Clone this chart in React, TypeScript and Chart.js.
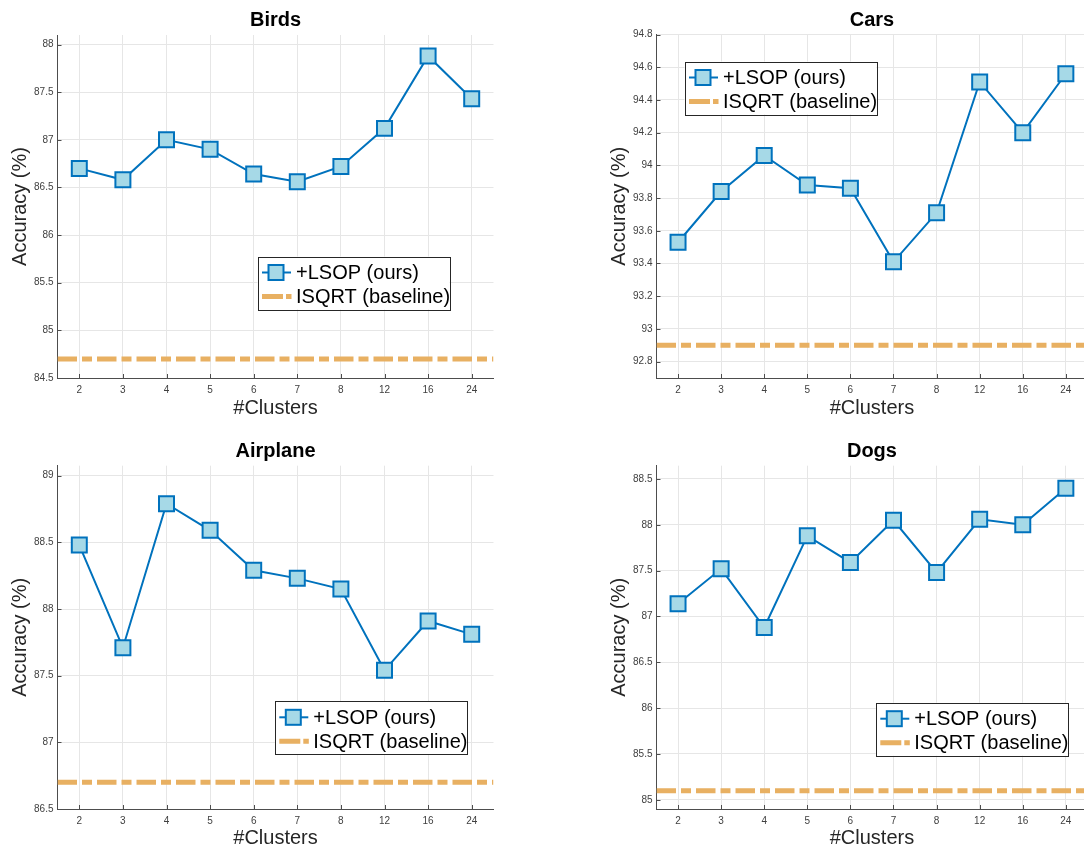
import React, { useEffect, useRef } from 'react';
import { Chart, registerables } from 'chart.js';

Chart.register(...registerables);

// ---------- data ----------
const clusters = ['2', '3', '4', '5', '6', '7', '8', '12', '16', '24'];

const birdsAcc = [86.7, 86.58, 87.0, 86.9, 86.64, 86.56, 86.72, 87.12, 87.88, 87.43];
const carsAcc = [93.53, 93.84, 94.06, 93.88, 93.86, 93.41, 93.71, 94.51, 94.2, 94.56];
const airplaneAcc = [88.48, 87.71, 88.79, 88.59, 88.29, 88.23, 88.15, 87.54, 87.91, 87.81];
const dogsAcc = [87.14, 87.52, 86.88, 87.88, 87.59, 88.05, 87.48, 88.06, 88.0, 88.4];

const birdsBaseline = 84.7;
const carsBaseline = 92.9;
const airplaneBaseline = 86.7;
const dogsBaseline = 85.1;

const birdsTicks = [84.5, 85, 85.5, 86, 86.5, 87, 87.5, 88];
const carsTicks = [92.8, 93, 93.2, 93.4, 93.6, 93.8, 94, 94.2, 94.4, 94.6, 94.8];
const airplaneTicks = [86.5, 87, 87.5, 88, 88.5, 89];
const dogsTicks = [85, 85.5, 86, 86.5, 87, 87.5, 88, 88.5];

const birdsRange = [84.5, 88.1];
const carsRange = [92.7, 94.8];
const airplaneRange = [86.5, 89.075];
const dogsRange = [84.9, 88.645];

const seriesLabel = '+LSOP (ours)';
const baselineLabel = 'ISQRT (baseline)';
const yAxisTitle = 'Accuracy (%)';
const xAxisTitle = '#Clusters';

// ---------- styles / layout ----------
const FONT = '"Liberation Sans", Arial, Helvetica, sans-serif';
const BLUE = '#0072bd';
const LIGHT_BLUE = '#a6d9e7';
const ORANGE = '#e8b062';
const AXIS = '#4d4d4d';
const GRID = '#e6e6e6';

type Panel = {
  title: string;
  values: number[];
  baseline: number;
  ticks: number[];
  range: number[];
  canvas: { left: number; top: number; width: number; height: number };
  area: { left: number; top: number; right: number; bottom: number };
  legend: { x: number; y: number; w: number; h: number };
  titleY: number;
  yTitleX: number;
  xTitleY: number;
};

const panels: Panel[] = [
  {
    title: 'Birds', values: birdsAcc, baseline: birdsBaseline, ticks: birdsTicks, range: birdsRange,
    canvas: { left: 0, top: 0, width: 540, height: 425 },
    area: { left: 57.5, top: 35, right: 493.5, bottom: 378 },
    legend: { x: 257.5, y: 256.5, w: 192, h: 53 },
    titleY: 20.5, yTitleX: 20.7, xTitleY: 408.5,
  },
  {
    title: 'Cars', values: carsAcc, baseline: carsBaseline, ticks: carsTicks, range: carsRange,
    canvas: { left: 540, top: 0, width: 560, height: 425 },
    area: { left: 116.5, top: 34.5, right: 551.7, bottom: 378 },
    legend: { x: 144.5, y: 61.5, w: 192, h: 53 },
    titleY: 20.5, yTitleX: 79, xTitleY: 408.5,
  },
  {
    title: 'Airplane', values: airplaneAcc, baseline: airplaneBaseline, ticks: airplaneTicks, range: airplaneRange,
    canvas: { left: 0, top: 425, width: 540, height: 425 },
    area: { left: 57.5, top: 40.7, right: 493.5, bottom: 384 },
    legend: { x: 274.8, y: 276.3, w: 192, h: 53 },
    titleY: 26.5, yTitleX: 20.7, xTitleY: 413.5,
  },
  {
    title: 'Dogs', values: dogsAcc, baseline: dogsBaseline, ticks: dogsTicks, range: dogsRange,
    canvas: { left: 540, top: 425, width: 560, height: 425 },
    area: { left: 116.5, top: 40.7, right: 551.7, bottom: 384 },
    legend: { x: 335.8, y: 277.7, w: 192, h: 53 },
    titleY: 26.5, yTitleX: 79, xTitleY: 413.5,
  },
];

function makeDecor(p: Panel) {
  return {
    id: 'panelDecor',
    afterDraw(chart: any) {
      const { ctx, chartArea, scales } = chart;
      const xs = scales.x;
      const ys = scales.y;
      ctx.save();

      // inward tick marks
      ctx.strokeStyle = AXIS;
      ctx.lineWidth = 1;
      ctx.beginPath();
      clusters.forEach((_, i) => {
        const px = Math.round(xs.getPixelForValue(i)) + 0.5;
        ctx.moveTo(px, chartArea.bottom);
        ctx.lineTo(px, chartArea.bottom - 4);
      });
      p.ticks.forEach((v) => {
        const py = Math.round(ys.getPixelForValue(v)) + 0.5;
        ctx.moveTo(chartArea.left, py);
        ctx.lineTo(chartArea.left + 4, py);
      });
      ctx.stroke();

      // panel title
      ctx.fillStyle = '#000';
      ctx.font = `bold 20px ${FONT}`;
      ctx.textAlign = 'center';
      ctx.textBaseline = 'middle';
      ctx.fillText(p.title, (chartArea.left + chartArea.right) / 2, p.titleY);

      // axis titles
      ctx.fillStyle = '#262626';
      ctx.font = `20px ${FONT}`;
      ctx.fillText(xAxisTitle, (chartArea.left + chartArea.right) / 2, p.xTitleY);
      ctx.save();
      ctx.translate(p.yTitleX, (chartArea.top + chartArea.bottom) / 2);
      ctx.rotate(-Math.PI / 2);
      ctx.fillText(yAxisTitle, 0, 0);
      ctx.restore();

      // legend
      const { x, y, w, h } = p.legend;
      ctx.fillStyle = '#fff';
      ctx.fillRect(x, y, w, h);
      ctx.strokeStyle = '#262626';
      ctx.lineWidth = 1;
      ctx.strokeRect(Math.round(x) + 0.5, Math.round(y) + 0.5, Math.round(w), Math.round(h));

      const r1 = y + 16;
      const r2 = y + 40;
      // series sample
      ctx.strokeStyle = BLUE;
      ctx.lineWidth = 2;
      ctx.beginPath();
      ctx.moveTo(x + 4.5, r1);
      ctx.lineTo(x + 33.5, r1);
      ctx.stroke();
      ctx.fillStyle = LIGHT_BLUE;
      ctx.fillRect(x + 11, r1 - 7.5, 15, 15);
      ctx.strokeRect(x + 11, r1 - 7.5, 15, 15);
      // baseline sample
      ctx.strokeStyle = ORANGE;
      ctx.lineWidth = 5;
      ctx.setLineDash([21, 3, 6, 3]);
      ctx.beginPath();
      ctx.moveTo(x + 4.5, r2);
      ctx.lineTo(x + 34, r2);
      ctx.stroke();
      ctx.setLineDash([]);

      ctx.fillStyle = '#000';
      ctx.font = `20px ${FONT}`;
      ctx.textAlign = 'left';
      ctx.textBaseline = 'middle';
      ctx.fillText(seriesLabel, x + 38.5, r1 + 1);
      ctx.fillText(baselineLabel, x + 38.5, r2 + 1);

      ctx.restore();
    },
  };
}

function PanelChart({ p }: { p: Panel }) {
  const ref = useRef<HTMLCanvasElement | null>(null);
  useEffect(() => {
    if (!ref.current) return;
    const { width, height } = p.canvas;
    const chart = new Chart(ref.current, {
      type: 'line',
      data: {
        labels: clusters,
        datasets: [
          {
            label: seriesLabel,
            data: p.values,
            xAxisID: 'x',
            borderColor: BLUE,
            borderWidth: 2,
            pointStyle: 'rect',
            pointRadius: 10.6,
            pointHoverRadius: 10.6,
            pointBorderWidth: 2,
            pointBackgroundColor: LIGHT_BLUE,
            pointBorderColor: BLUE,
            tension: 0,
            fill: false,
          },
          {
            label: baselineLabel,
            data: [
              { x: 0, y: p.baseline },
              { x: 1, y: p.baseline },
            ],
            xAxisID: 'x2',
            borderColor: ORANGE,
            borderWidth: 5,
            borderDash: [19.5, 5, 10, 5],
            borderCapStyle: 'butt',
            pointRadius: 0,
            fill: false,
          },
        ] as any,
      },
      options: {
        responsive: false,
        animation: false,
        devicePixelRatio: 1,
        layout: {
          padding: { left: 0, top: p.area.top, right: width - p.area.right, bottom: 0 },
        },
        plugins: {
          legend: { display: false },
          title: { display: false },
          tooltip: { enabled: false },
        },
        scales: {
          x: {
            type: 'category',
            offset: true,
            grid: { color: GRID, lineWidth: 1, offset: false, drawTicks: false },
            border: { display: true, color: AXIS, width: 1 },
            ticks: { color: '#404040', font: { family: FONT, size: 10 }, padding: 6, maxRotation: 0 },
            afterFit: (s: any) => {
              s.height = height - p.area.bottom;
            },
          },
          x2: {
            type: 'linear',
            display: false,
            min: 0,
            max: 1,
          },
          y: {
            type: 'linear',
            min: p.range[0],
            max: p.range[1],
            grid: { color: GRID, lineWidth: 1, drawTicks: false },
            border: { display: true, color: AXIS, width: 1 },
            ticks: {
              color: '#404040',
              font: { family: FONT, size: 10 },
              padding: 4,
              callback: (v: any) => String(v),
            },
            afterBuildTicks: (s: any) => {
              s.ticks = p.ticks.map((v) => ({ value: v }));
            },
            afterFit: (s: any) => {
              s.width = p.area.left;
            },
          },
        } as any,
      },
      plugins: [makeDecor(p)],
    });
    return () => chart.destroy();
  }, [p]);

  return (
    <canvas
      ref={ref}
      width={p.canvas.width}
      height={p.canvas.height}
      style={{
        position: 'absolute',
        left: p.canvas.left,
        top: p.canvas.top,
        width: p.canvas.width,
        height: p.canvas.height,
      }}
    />
  );
}

export default function App() {
  return (
    <div
      style={{
        position: 'absolute',
        left: 0,
        top: 0,
        width: 1084,
        height: 850,
        overflow: 'hidden',
        background: '#fff',
      }}
    >
      {panels.map((p) => (
        <PanelChart key={p.title} p={p} />
      ))}
    </div>
  );
}
